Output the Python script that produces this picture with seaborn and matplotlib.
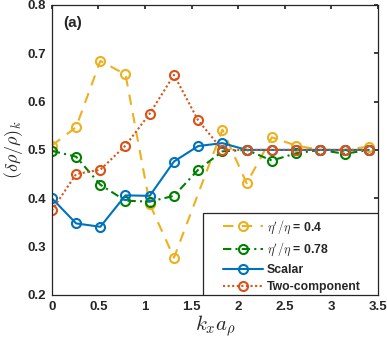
import matplotlib
matplotlib.use("Agg")
import matplotlib.pyplot as plt
from matplotlib.patches import Rectangle
import numpy as np
import pandas as pd
import seaborn as sns

# k_x a_rho grid (step ~ pi/12)
kx = [0, 0.26, 0.52, 0.79, 1.05, 1.31, 1.57, 1.83, 2.09, 2.36, 2.62, 2.88, 3.14, 3.40]
kx_eta04 = [0, 0.26, 0.52, 0.79, 1.05, 1.31, 1.83, 2.09, 2.36, 2.62, 2.88, 3.14, 3.40]

eta_04 = [0.509, 0.547, 0.684, 0.656, 0.388, 0.277, 0.542, 0.431, 0.526, 0.509, 0.500, 0.500, 0.507]
eta_078 = [0.498, 0.486, 0.428, 0.395, 0.393, 0.405, 0.459, 0.497, 0.500, 0.478, 0.493, 0.500, 0.492, 0.500]
scalar = [0.400, 0.348, 0.341, 0.406, 0.405, 0.476, 0.508, 0.514, 0.500, 0.500, 0.500, 0.500, 0.500, 0.500]
two_comp = [0.375, 0.450, 0.459, 0.509, 0.575, 0.655, 0.561, 0.500, 0.500, 0.500, 0.500, 0.500, 0.500, 0.500]

labels = [r"$\eta'/\eta$ = 0.4", r"$\eta'/\eta$ = 0.78", "Scalar", "Two-component"]
colors = ["#EDB120", "#008000", "#0072BD", "#D95319"]
styles = [(0, (5, 4)), (0, (4, 2, 1, 2)), "-", (0, (1, 1.2))]

sns.set_theme(style="white")
plt.rcParams.update({
    "font.family": ["Liberation Sans", "DejaVu Sans"],
    "font.weight": "bold",
    "mathtext.fontset": "cm",
    "xtick.direction": "in",
    "ytick.direction": "in",
    "xtick.top": True,
    "ytick.right": True,
    "xtick.major.size": 3,
    "ytick.major.size": 3,
    "axes.linewidth": 0.9,
})

fig = plt.figure(figsize=(3.87, 3.45), dpi=100)
ax = fig.add_axes([0.134, 0.145, 0.843, 0.841])

series = [(kx_eta04, eta_04), (kx, eta_078), (kx, scalar), (kx, two_comp)]
for (xs, ys), lab, c, ls in zip(series, labels, colors, styles):
    df = pd.DataFrame({"kx": xs, "val": ys})
    sns.lineplot(data=df, x="kx", y="val", ax=ax, color=c, linewidth=1.5,
                 linestyle=ls, marker="o", markersize=6.5, markerfacecolor="none",
                 markeredgecolor=c, markeredgewidth=1.5, label=lab)

ax.set_xlim(0, 3.5)
ax.set_ylim(0.2, 0.8)
ax.set_xticks([0, 0.5, 1, 1.5, 2, 2.5, 3, 3.5])
ax.set_xticklabels(["0", "0.5", "1", "1.5", "2", "2.5", "3", "3.5"])
ax.set_yticks([0.2, 0.3, 0.4, 0.5, 0.6, 0.7, 0.8])
ax.tick_params(labelsize=9.5, colors="#262626", pad=4)
for t in ax.get_xticklabels() + ax.get_yticklabels():
    t.set_fontweight("bold")
for s in ax.spines.values():
    s.set_color("#262626")

ax.set_xlabel(r"$k_x a_\rho$", fontsize=15, labelpad=1)
ax.set_ylabel(r"$(\delta\rho/\rho)_k$", fontsize=13, labelpad=2)
ax.text(0.035, 0.925, "(a)", transform=ax.transAxes, fontsize=11, fontweight="bold")

# legend box like the MATLAB one, flush with the lower right corner
box = Rectangle((0.463, 0), 0.537, 0.283, transform=ax.transAxes, facecolor="white",
                edgecolor="#262626", linewidth=0.9, zorder=4.5)
ax.add_patch(box)
leg = ax.legend(loc="center left", bbox_to_anchor=(0.525, 0.135), frameon=False,
                prop={"weight": "bold", "size": 8.8}, handlelength=3.3,
                handletextpad=0.25, borderaxespad=0, borderpad=0, labelspacing=0.45)
leg.set_zorder(5)

fig.savefig("out.png", dpi=100)
